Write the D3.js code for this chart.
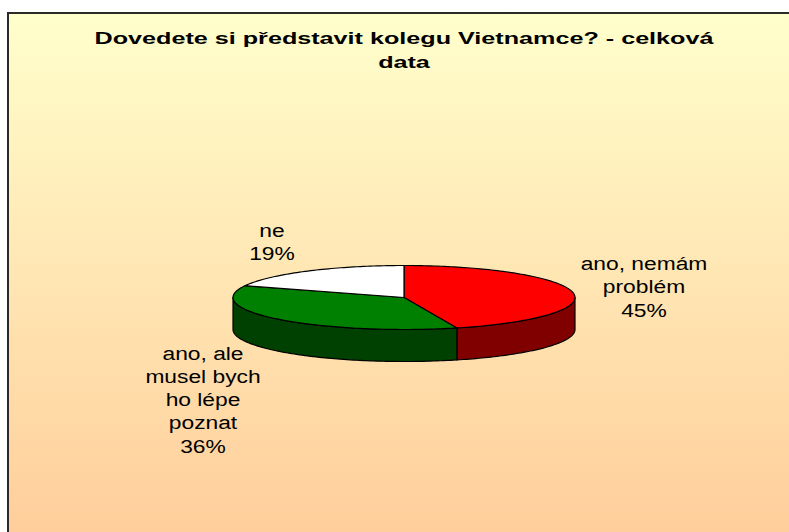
<!DOCTYPE html>
<html>
<head>
<meta charset="utf-8">
<script src="https://d3js.org/d3.v7.min.js"></script>
<title>Dovedete si představit kolegu Vietnamce?</title>
<style>
	html, body { margin: 0; padding: 0; background: #fff; }
	svg { display: block; }
	text { font-family: "Liberation Sans", Arial, sans-serif; fill: #000; }
</style>
</head>
<body>
<svg width="789" height="532"></svg>
<script>
	// data
	const categories = ["ano, nemám problém", "ano, ale musel bych ho lépe poznat", "ne"];
	const values = [45, 36, 19];
	const labelLines = [["ano, nemám", "problém"], ["ano, ale", "musel bych", "ho lépe", "poznat"], ["ne"]];
	const titleLines = ["Dovedete si představit kolegu Vietnamce? - celková", "data"];

	// styles
	const topColors = ["#ff0000", "#008000", "#ffffff"];
	const sideColors = ["#800000", "#004000", "#bfbfbf"];

	// layout
	const cx = 404, cy = 297.5, rx = 171, ry = 32, depth = 32;
	const labelPos = [[644, 270], [203, 359.5], [272, 236.5]];   // centre x, first baseline
	const lineH = 23.3;

	const svg = d3.select("svg");

	// background gradient
	const grad = svg.append("defs").append("linearGradient")
		.attr("id", "bg").attr("x1", 0).attr("y1", 0).attr("x2", 0).attr("y2", 1);
	grad.append("stop").attr("offset", "0%").attr("stop-color", "#ffffcc");
	grad.append("stop").attr("offset", "100%").attr("stop-color", "#ffcc99");

	svg.append("rect")
		.attr("x", 8).attr("y", 13)
		.attr("width", 800).attr("height", 540)
		.attr("fill", "url(#bg)")
		.attr("stroke", "#2a2a2a")
		.attr("stroke-width", 2);

	// text lines, stretched horizontally like the original
	function addLines(lines, x, y0, lh, size, weight, sx) {
		lines.forEach(function (t, i) {
			svg.append("text")
				.attr("transform", "translate(" + x + "," + (y0 + i * lh) + ") scale(" + sx + ",1)")
				.attr("text-anchor", "middle")
				.style("font-size", size + "px")
				.style("font-weight", weight)
				.text(t);
		});
	}

	addLines(titleLines, 404, 44, 23.5, 17, "bold", 1.48);

	// pie
	const pie = d3.pie().sort(null).value(d => d);
	const arcs = pie(values);
	const total = d3.sum(values);

	function rim(a0, a1, dy) {
		const n = Math.max(2, Math.ceil((a1 - a0) / 0.02));
		return d3.range(n + 1).map(function (i) {
			const a = a0 + (a1 - a0) * i / n;
			return [cx + rx * Math.sin(a), cy - ry * Math.cos(a) + dy];
		});
	}
	const line = d3.line();

	// sides (front half only)
	arcs.forEach(function (d, i) {
		const s = Math.max(d.startAngle, Math.PI / 2);
		const e = Math.min(d.endAngle, 3 * Math.PI / 2);
		if (e <= s) return;
		const pts = rim(s, e, 0).concat(rim(s, e, depth).reverse());
		svg.append("path")
			.attr("d", line(pts) + "Z")
			.attr("fill", sideColors[i])
			.attr("stroke", "#000")
			.attr("stroke-width", 1.2)
			.attr("stroke-linejoin", "round");
	});

	// tops
	arcs.forEach(function (d, i) {
		const pts = [[cx, cy]].concat(rim(d.startAngle, d.endAngle, 0));
		svg.append("path")
			.attr("d", line(pts) + "Z")
			.attr("fill", topColors[i])
			.attr("stroke", "#000")
			.attr("stroke-width", 1.2)
			.attr("stroke-linejoin", "round");
	});

	// labels
	const pct = d3.format(".0%");
	arcs.forEach(function (d, i) {
		const lines = labelLines[i].concat([pct(d.value / total)]);
		addLines(lines, labelPos[i][0], labelPos[i][1], lineH, 19, "normal", 1.2);
	});
</script>
</body>
</html>
